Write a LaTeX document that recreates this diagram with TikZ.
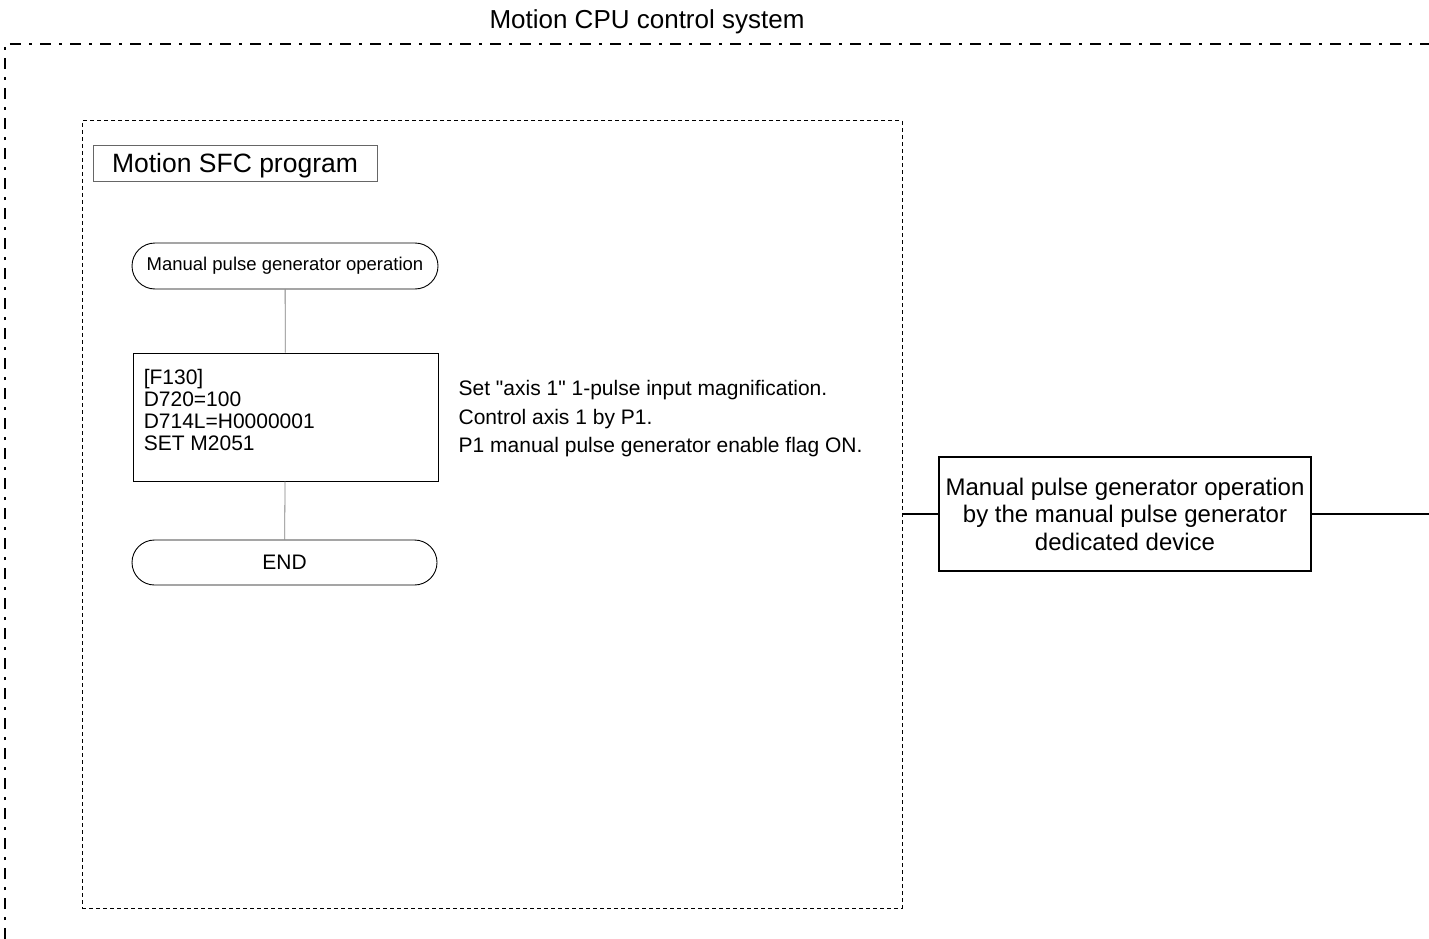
\documentclass[tikz,border=0pt]{standalone}
\usepackage{fontspec}
\setmainfont{Liberation Sans}
\usepackage{tikz}
\usetikzlibrary{shapes.misc,%
                positioning}

\newcommand{\fs}[2]{\fontsize{#1}{#2}\selectfont}

\begin{document}
\begin{tikzpicture}[x=1pt,y=-1pt,
		cpuframe/.style={line width=2.2pt,dash pattern=on 11pt off 8pt on 3pt off 8pt},
		sfcarea/.style={draw,line width=1pt,dash pattern=on 4pt off 3pt,minimum width=820pt,minimum height=787pt},
		terminal/.style={draw,rounded rectangle,line width=0.9pt,inner sep=0pt},
		stepbox/.style={draw,line width=0.9pt},
		flow/.style={draw=gray,line width=0.8pt}]
		\useasboundingbox (0,0) rectangle (1429,939);
		%\draw[help lines] (0,0) grid[step=100] (1429,939);
		\node[anchor=base,font=\fs{26}{30}] (cputitle) at (647,29) {Motion CPU control system};
		\draw[cpuframe] (5,939) -- (5,44) -- (1429,44);
		\node[sfcarea] (sfc) at (492,514.5) {};
		{
			\tikzset{every node/.append style={draw=gray!80!black,line width=0.8pt,minimum width=284pt,minimum height=36pt}}
			\node[font=\fs{26.5}{30},text depth=0pt] (sfctitle) at (235,163) {Motion SFC program};
		}
		\node[terminal,minimum width=306pt,minimum height=46pt,font=\fs{18.5}{22}] (start) at (285,266)
			{Manual pulse generator operation};
		\node[stepbox,minimum width=305pt,minimum height=128pt] (f130) at (285.5,417) {};
		\node[anchor=north west,inner sep=0pt,align=left,font=\fs{21}{21.7}] (f130text)
			at ([shift={(11,17)}]f130.north west) {[F130]\\D720=100\\D714L=H0000001\\SET M2051};
		\node[right=20pt of f130,yshift=-2pt,inner sep=0pt,align=left,font=\fs{21}{28.5}] (note)
			{Set \textquotedbl axis 1\textquotedbl{} 1-pulse input magnification.\\Control axis 1 by P1.\\P1 manual pulse generator enable flag ON.};
		\node[terminal,minimum width=305pt,minimum height=45pt,font=\fs{21}{24}] (end) at (284.5,562.5) {END};
		%\node[terminal] (end) [below=59pt of f130] {END};
		\node[draw,line width=1.6pt,minimum width=372pt,minimum height=114pt,align=center,font=\fs{24}{27.5}] (mpg) at (1125,514)
			{Manual pulse generator operation\\by the manual pulse generator\\dedicated device};
		\coordinate (rim) at (1429,514);
		\path[flow] (start) -- (f130);
		\path[flow] (f130) -- (end);
		\draw[line width=1.4pt] (mpg.west -| sfc.east) -- (mpg.west);
		\draw[line width=1.4pt] (mpg.east) -- (rim);
	\end{tikzpicture}
\end{document}
